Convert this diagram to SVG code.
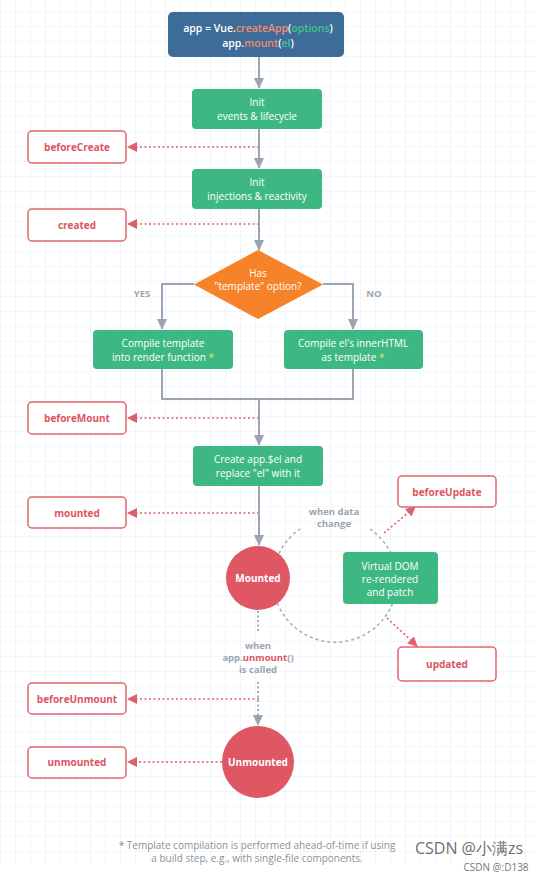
<svg xmlns="http://www.w3.org/2000/svg" width="548" height="878" viewBox="0 0 548 878">
<style>
text{font-family:"Open Sans","Liberation Sans",sans-serif;text-anchor:middle}
.g{fill:#3eb883}
.gt{fill:#ffffff;font-size:10px}
.hook rect{fill:#ffffff;stroke:#e0646e;stroke-width:1.5}
.hook text{fill:#dc5561;font-size:10px;font-weight:700}
.arr{fill:none;stroke:#9aa5b1;stroke-width:2}
.gdot{fill:none;stroke:#9aa5b1;stroke-width:1.8;stroke-dasharray:2 2.5}
.rdot{fill:none;stroke:#e0606a;stroke-width:1.6;stroke-dasharray:2 2.5}
.lbl{fill:#9ca5ae;font-weight:700;font-size:9.5px}
.o{fill:#f08d6e}.c{fill:#44c48b}
</style>
<defs>
<pattern id="grid" x="0" y="11" width="15" height="15" patternUnits="userSpaceOnUse">
<path d="M0 0H15M0 0V15" fill="none" stroke="#e5effa" stroke-width="1.2"/>
</pattern>
<marker id="ga" markerWidth="11" markerHeight="10" refX="10" refY="5" orient="auto" markerUnits="userSpaceOnUse">
<path d="M0 0L11 5L0 10Z" fill="#9aa5b1"/>
</marker>
<marker id="ra" markerWidth="10" markerHeight="10" refX="9" refY="5" orient="auto" markerUnits="userSpaceOnUse">
<path d="M0 0L10 5L0 10Z" fill="#e0606a"/>
</marker>
</defs>
<rect x="0" y="0" width="548" height="878" fill="#ffffff"/>
<rect x="0" y="0" width="537" height="864" fill="url(#grid)"/>

<g id="connectors">
<path class="rdot" d="M259 147H128" marker-end="url(#ra)"/>
<path class="rdot" d="M259 224H128" marker-end="url(#ra)"/>
<path class="rdot" d="M259 418H128" marker-end="url(#ra)"/>
<path class="rdot" d="M259 513H128" marker-end="url(#ra)"/>
<path class="rdot" d="M259 699H128" marker-end="url(#ra)"/>
<path class="rdot" d="M222 762H128" marker-end="url(#ra)"/>
<path class="rdot" d="M384 533L415 507" marker-end="url(#ra)"/>
<path class="rdot" d="M387 618L417 646" marker-end="url(#ra)"/>
<path class="arr" d="M259 57V88" marker-end="url(#ga)"/>
<path class="arr" d="M259 128V168" marker-end="url(#ga)"/>
<path class="arr" d="M259 209V250" marker-end="url(#ga)"/>
<path class="arr" d="M194 284H162V329" marker-end="url(#ga)"/>
<path class="arr" d="M323 284H353V329" marker-end="url(#ga)"/>
<path class="arr" d="M162 368V399H353V368"/>
<path class="arr" d="M259 399V445" marker-end="url(#ga)"/>
<path class="arr" d="M259 486V545" marker-end="url(#ga)"/>
<path class="gdot" d="M258 611V633"/>
<path class="gdot" d="M258 682V725" marker-end="url(#ga)"/>
<path fill="none" stroke="#a3abb3" stroke-width="1.5" stroke-dasharray="3 3" d="M370 529A62 62 0 1 1 300 529"/>
</g>

<g id="n-create-app">
<rect x="168" y="12" width="176" height="45" rx="5" fill="#3e6c98"/>
<text y="32" x="258" fill="#ffffff" font-size="10.5" font-weight="600">app = Vue.<tspan class="o">createApp</tspan>(<tspan class="c">options</tspan>)</text>
<text y="47" x="258" fill="#ffffff" font-size="10.5" font-weight="600">app.<tspan class="o">mount</tspan>(<tspan class="c">el</tspan>)</text>
</g>

<g id="n-init-events">
<rect class="g" x="192" y="89" width="130" height="40" rx="4"/>
<text class="gt" x="257" y="106">Init</text>
<text class="gt" x="257" y="120">events &amp; lifecycle</text>
</g>

<g id="n-init-inject">
<rect class="g" x="192" y="169" width="130" height="40" rx="4"/>
<text class="gt" x="257" y="186">Init</text>
<text class="gt" x="257" y="200">injections &amp; reactivity</text>
</g>

<g id="n-template">
<path d="M258 250L323 284.5L258 319L194 284.5Z" fill="#f6832a"/>
<text class="gt" x="258" y="277">Has</text>
<text class="gt" x="258" y="290">"template" option?</text>
</g>
<text class="lbl" x="142" y="297" font-size="10.5">YES</text>
<text class="lbl" x="374" y="297" font-size="10.5">NO</text>

<g id="n-compile-template">
<rect class="g" x="93" y="330" width="140" height="39" rx="4"/>
<text class="gt" x="163" y="347">Compile template</text>
<text class="gt" x="163" y="361">into render function <tspan fill="#d7e87a">*</tspan></text>
</g>

<g id="n-compile-html">
<rect class="g" x="284" y="330" width="139" height="39" rx="4"/>
<text class="gt" x="353" y="347">Compile el's innerHTML</text>
<text class="gt" x="353" y="361">as template <tspan fill="#d7e87a">*</tspan></text>
</g>

<g id="n-create-el">
<rect class="g" x="193" y="446" width="130" height="40" rx="4"/>
<text class="gt" x="258" y="463">Create app.$el and</text>
<text class="gt" x="258" y="477">replace "el" with it</text>
</g>

<g id="l-data-change">
<text class="lbl" x="334" y="515" font-weight="600" font-size="10">when data</text>
<text class="lbl" x="334" y="527" font-weight="600" font-size="10">change</text>
</g>

<g id="n-mounted">
<circle cx="258" cy="578" r="32" fill="#de5763"/>
<text x="258" y="582" fill="#ffffff" font-size="10" font-weight="700">Mounted</text>
</g>

<g id="n-vdom">
<rect class="g" x="343" y="552" width="95" height="52" rx="4"/>
<text class="gt" x="390" y="570">Virtual DOM</text>
<text class="gt" x="390" y="583">re-rendered</text>
<text class="gt" x="390" y="596">and patch</text>
</g>

<g id="l-unmount">
<text class="lbl" x="258" y="649" font-weight="600" font-size="10">when</text>
<text class="lbl" x="258" y="661" font-weight="600" font-size="10">app.<tspan fill="#dc5561" font-weight="700">unmount</tspan>()</text>
<text class="lbl" x="258" y="673" font-weight="600" font-size="10">is called</text>
</g>

<g id="n-unmounted">
<circle cx="258" cy="762" r="36" fill="#de5763"/>
<text x="258" y="766" fill="#ffffff" font-size="10" font-weight="700">Unmounted</text>
</g>

<g id="h-beforeCreate" class="hook"><rect x="28" y="131" width="98" height="32" rx="4"/><text x="77" y="151">beforeCreate</text></g>
<g id="h-created" class="hook"><rect x="28" y="209" width="98" height="32" rx="4"/><text x="77" y="229">created</text></g>
<g id="h-beforeMount" class="hook"><rect x="28" y="402" width="98" height="32" rx="4"/><text x="77" y="422">beforeMount</text></g>
<g id="h-mounted" class="hook"><rect x="28" y="497" width="98" height="31" rx="4"/><text x="77" y="517">mounted</text></g>
<g id="h-beforeUpdate" class="hook"><rect x="398" y="476" width="98" height="31" rx="4"/><text x="447" y="496">beforeUpdate</text></g>
<g id="h-updated" class="hook"><rect x="398" y="647" width="98" height="34" rx="4"/><text x="447" y="668">updated</text></g>
<g id="h-beforeUnmount" class="hook"><rect x="28" y="683" width="98" height="31" rx="4"/><text x="77" y="703">beforeUnmount</text></g>
<g id="h-unmounted" class="hook"><rect x="28" y="747" width="98" height="31" rx="4"/><text x="77" y="766">unmounted</text></g>

<g id="footer">
<text x="257" y="849" fill="#8c9196" font-size="10">* Template compilation is performed ahead-of-time if using</text>
<text x="257" y="862" fill="#8c9196" font-size="10">a build step, e.g., with single-file components.</text>
</g>
<text x="469" y="854" fill="#6f6f6f" font-size="16" font-family="'Liberation Sans','Noto Sans CJK SC',sans-serif">CSDN @小满zs</text>
<text x="496" y="871" fill="#777777" font-size="10" font-family="'Liberation Sans',sans-serif">CSDN @:D138</text>
</svg>
